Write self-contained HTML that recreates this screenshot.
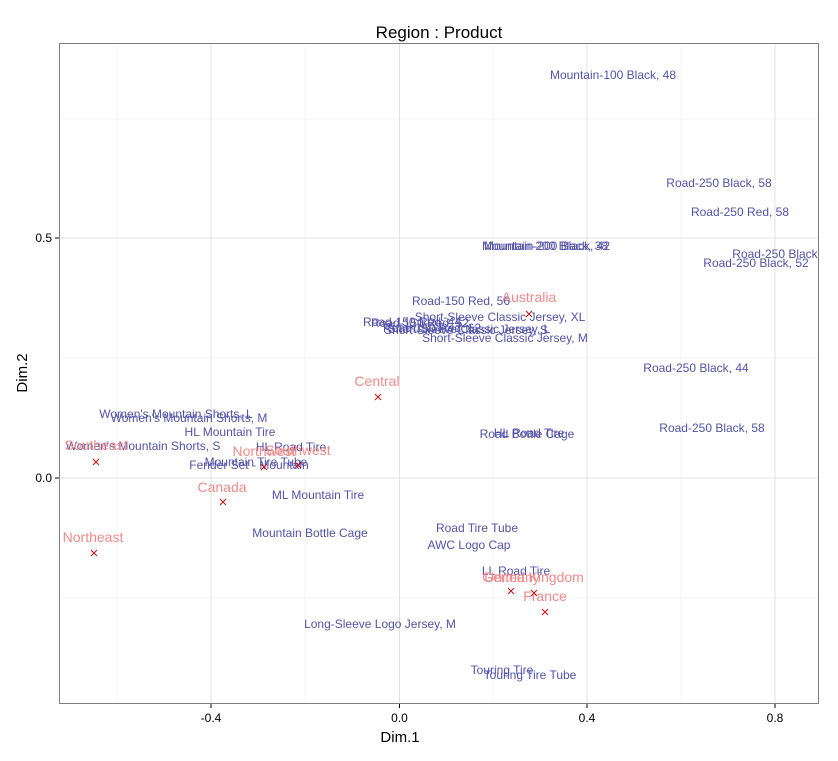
<!DOCTYPE html>
<html><head><meta charset="utf-8"><style>body{margin:0;background:#fff}</style></head><body>
<svg width="838" height="756" xmlns="http://www.w3.org/2000/svg" font-family="Liberation Sans, Arial, sans-serif">
<defs><clipPath id="c"><rect x="59.5" y="43.5" width="759" height="660"/></clipPath></defs>
<rect x="59.5" y="43.5" width="759" height="660" fill="#fff"/>
<g stroke="#f5f5f5" stroke-width="1">
<line x1="117" y1="43.5" x2="117" y2="703.5"/><line x1="305" y1="43.5" x2="305" y2="703.5"/><line x1="493" y1="43.5" x2="493" y2="703.5"/><line x1="681" y1="43.5" x2="681" y2="703.5"/>
<line x1="59.5" y1="119" x2="818.5" y2="119"/><line x1="59.5" y1="358" x2="818.5" y2="358"/><line x1="59.5" y1="598" x2="818.5" y2="598"/>
</g>
<g stroke="#e3e3e3" stroke-width="1">
<line x1="211" y1="43.5" x2="211" y2="703.5"/><line x1="399.5" y1="43.5" x2="399.5" y2="703.5"/><line x1="587" y1="43.5" x2="587" y2="703.5"/><line x1="775" y1="43.5" x2="775" y2="703.5"/>
<line x1="59.5" y1="238" x2="818.5" y2="238"/><line x1="59.5" y1="478" x2="818.5" y2="478"/>
</g>
<g clip-path="url(#c)" font-size="12" fill="#5353a8" text-anchor="middle">
<text x="613" y="79">Mountain-100 Black, 48</text>
<text x="719" y="187">Road-250 Black, 58</text>
<text x="740" y="216">Road-250 Red, 58</text>
<text x="545" y="250">Mountain-200 Black, 38</text>
<text x="547" y="250">Mountain-200 Black, 42</text>
<text x="785" y="258">Road-250 Black, 48</text>
<text x="756" y="267">Road-250 Black, 52</text>
<text x="461" y="305">Road-150 Red, 56</text>
<text x="500" y="321">Short-Sleeve Classic Jersey, XL</text>
<text x="412" y="326">Road-150 Red, 44</text>
<text x="420" y="327">Road-150 Red, 52</text>
<text x="432" y="332">Road-150 Red, 62</text>
<text x="466" y="334">Short-Sleeve Classic Jersey, S</text>
<text x="469" y="333">Short-Sleeve Classic Jersey, L</text>
<text x="505" y="342">Short-Sleeve Classic Jersey, M</text>
<text x="696" y="372">Road-250 Black, 44</text>
<text x="176" y="418">Women's Mountain Shorts, L</text>
<text x="189" y="422">Women's Mountain Shorts, M</text>
<text x="230" y="436">HL Mountain Tire</text>
<text x="143" y="450">Women's Mountain Shorts, S</text>
<text x="291" y="451">HL Road Tire</text>
<text x="529" y="437">HL Road Tire</text>
<text x="527" y="438">Road Bottle Cage</text>
<text x="712" y="432">Road-250 Black, 58</text>
<text x="256" y="466">Mountain Tire Tube</text>
<text x="249" y="469">Fender Set - Mountain</text>
<text x="318" y="499">ML Mountain Tire</text>
<text x="310" y="537">Mountain Bottle Cage</text>
<text x="477" y="532">Road Tire Tube</text>
<text x="469" y="549">AWC Logo Cap</text>
<text x="516" y="575">LL Road Tire</text>
<text x="380" y="628">Long-Sleeve Logo Jersey, M</text>
<text x="502" y="674">Touring Tire</text>
<text x="530" y="679">Touring Tire Tube</text>
</g>
<g font-size="14" fill="#f08a8a" text-anchor="middle">
<text x="529" y="302">Australia</text>
<text x="377" y="386">Central</text>
<text x="96" y="450">Southeast</text>
<text x="264" y="456">Northwest</text>
<text x="298" y="455">Southwest</text>
<text x="222" y="492">Canada</text>
<text x="93" y="542">Northeast</text>
<text x="511" y="582">Germany</text>
<text x="534" y="582">United Kingdom</text>
<text x="545" y="601">France</text>
</g>
<g stroke="#c41a1a" stroke-width="1.1" fill="none">
<path d="M526 311l6 6M532 311l-6 6"/>
<path d="M375 394l6 6M381 394l-6 6"/>
<path d="M93 459l6 6M99 459l-6 6"/>
<path d="M261 464l6 6M267 464l-6 6"/>
<path d="M295 462l6 6M301 462l-6 6"/>
<path d="M220 499l6 6M226 499l-6 6"/>
<path d="M91 550l6 6M97 550l-6 6"/>
<path d="M508 588l6 6M514 588l-6 6"/>
<path d="M531 590l6 6M537 590l-6 6"/>
<path d="M542 609l6 6M548 609l-6 6"/>
</g>
<rect x="59.5" y="43.5" width="759" height="660" fill="none" stroke="#7f7f7f" stroke-width="1"/>
<g stroke="#000" stroke-width="1">
<line x1="55" y1="238" x2="59" y2="238"/><line x1="55" y1="478" x2="59" y2="478"/>
<line x1="211" y1="704" x2="211" y2="708"/><line x1="399.5" y1="704" x2="399.5" y2="708"/><line x1="587" y1="704" x2="587" y2="708"/><line x1="775" y1="704" x2="775" y2="708"/>
</g>
<g font-size="12" fill="#000">
<text x="52" y="242" text-anchor="end">0.5</text>
<text x="52" y="482" text-anchor="end">0.0</text>
<text x="211" y="722" text-anchor="middle">-0.4</text>
<text x="399.5" y="722" text-anchor="middle">0.0</text>
<text x="587" y="722" text-anchor="middle">0.4</text>
<text x="775" y="722" text-anchor="middle">0.8</text>
</g>
<text x="439" y="38" font-size="17" text-anchor="middle" fill="#000">Region : Product</text>
<text x="400" y="742" font-size="15" text-anchor="middle" fill="#000">Dim.1</text>
<text transform="translate(27,373) rotate(-90)" font-size="15" text-anchor="middle" fill="#000">Dim.2</text>
</svg>
</body></html>
